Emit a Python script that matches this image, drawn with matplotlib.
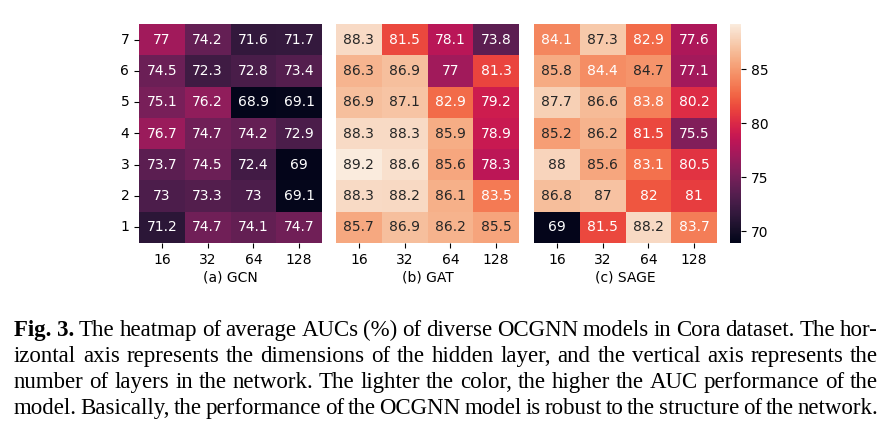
import numpy as np
import matplotlib
matplotlib.use('Agg')
import matplotlib.pyplot as plt
import seaborn as sns

# ── data ─────────────────────────────────────────────────────────────────────
layers = [7, 6, 5, 4, 3, 2, 1]          # rows, top to bottom
hidden_dims = [16, 32, 64, 128]         # columns

gcn_auc = [
    [77.0, 74.2, 71.6, 71.7],
    [74.5, 72.3, 72.8, 73.4],
    [75.1, 76.2, 68.9, 69.1],
    [76.7, 74.7, 74.2, 72.9],
    [73.7, 74.5, 72.4, 69.0],
    [73.0, 73.3, 73.0, 69.1],
    [71.2, 74.7, 74.1, 74.7],
]
gat_auc = [
    [88.3, 81.5, 78.1, 73.8],
    [86.3, 86.9, 77.0, 81.3],
    [86.9, 87.1, 82.9, 79.2],
    [88.3, 88.3, 85.9, 78.9],
    [89.2, 88.6, 85.6, 78.3],
    [88.3, 88.2, 86.1, 83.5],
    [85.7, 86.9, 86.2, 85.5],
]
sage_auc = [
    [84.1, 87.3, 82.9, 77.6],
    [85.8, 84.4, 84.7, 77.1],
    [87.7, 86.6, 83.8, 80.2],
    [85.2, 86.2, 81.5, 75.5],
    [88.0, 85.6, 83.1, 80.5],
    [86.8, 87.0, 82.0, 81.0],
    [69.0, 81.5, 88.2, 83.7],
]
panel_labels = ['(a) GCN', '(b) GAT', '(c) SAGE']
cbar_ticks = [70, 75, 80, 85]

caption_lines = [
    'The heatmap of average AUCs (%) of diverse OCGNN models in Cora dataset. The hor-',
    'izontal axis represents the dimensions of the hidden layer, and the vertical axis represents the',
    'number of layers in the network. The lighter the color, the higher the AUC performance of the',
    'model. Basically, the performance of the OCGNN model is robust to the structure of the network.',
]
caption_prefix = 'Fig. 3.'

# ── figure ───────────────────────────────────────────────────────────────────
W, H = 890, 436
fig = plt.figure(figsize=(W / 100, H / 100), dpi=100)

all_vals = np.array([gcn_auc, gat_auc, sage_auc])
vmin, vmax = all_vals.min(), all_vals.max()

ax_left = [139, 336, 534]
ax_w, ax_top, ax_bot = 183, 24, 243
axes = [fig.add_axes([l / W, 1 - ax_bot / H, ax_w / W, (ax_bot - ax_top) / H])
        for l in ax_left]
cax = fig.add_axes([730 / W, 1 - ax_bot / H, 11 / W, (ax_bot - ax_top) / H])

for i, (ax, data, lab) in enumerate(zip(axes, [gcn_auc, gat_auc, sage_auc], panel_labels)):
    sns.heatmap(np.array(data), ax=ax, cmap='rocket', vmin=vmin, vmax=vmax,
                annot=True, fmt='g', annot_kws={'fontsize': 10},
                cbar=(i == 2), cbar_ax=cax if i == 2 else None,
                xticklabels=hidden_dims,
                yticklabels=layers if i == 0 else False)
    ax.set_xlabel(lab, fontsize=10, labelpad=3)
    ax.tick_params(axis='x', labelsize=10)
    ax.tick_params(axis='y', labelsize=10, rotation=0)
    if i != 0:
        ax.tick_params(axis='y', left=False)

cax.set_yticks(cbar_ticks)
cax.tick_params(labelsize=10)

# ── justified caption ────────────────────────────────────────────────────────
renderer = fig.canvas.get_renderer()
x0, x1 = 14, 878
baselines = [336, 362, 388, 414]
fs = 16.5
for k, (line, yb) in enumerate(zip(caption_lines, baselines)):
    words = [(w, 'normal') for w in line.split()]
    if k == 0:
        words = [(caption_prefix, 'bold')] + words
    texts = [fig.text(0, 1 - yb / H, w, fontsize=fs, family='Liberation Serif',
                      fontweight=wt, va='baseline', ha='left')
             for w, wt in words]
    widths = [t.get_window_extent(renderer).width for t in texts]
    gap = (x1 - x0 - sum(widths)) / (len(texts) - 1)
    x = x0
    for t, w in zip(texts, widths):
        t.set_x(x / W)
        x += w + gap

fig.savefig('out.png', dpi=100)
